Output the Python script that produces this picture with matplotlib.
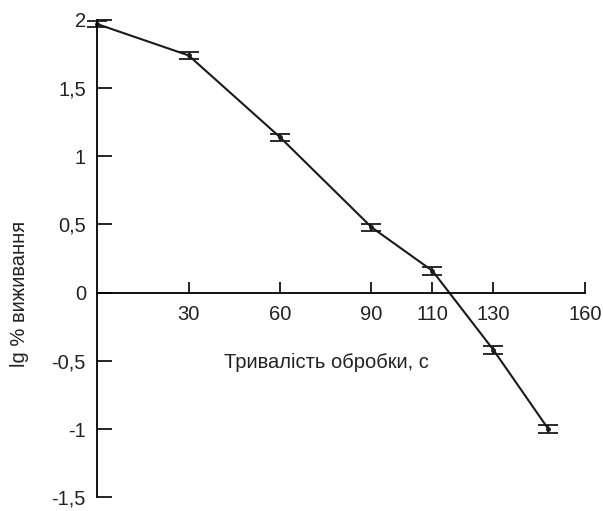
import matplotlib
matplotlib.use("Agg")
from matplotlib import pyplot as plt
from matplotlib.ticker import FuncFormatter

plt.rcParams['font.family'] = ['Liberation Sans', 'DejaVu Sans']

# time of treatment, s
time_s = [0, 30, 60, 90, 110, 130, 148]
# lg % survival
lg_surv = [1.97, 1.74, 1.14, 0.48, 0.16, -0.42, -1.0]
err = [0.025, 0.027, 0.027, 0.027, 0.027, 0.027, 0.027]

x_ticks = [30, 60, 90, 110, 130, 160]
y_ticks = [-1.5, -1, -0.5, 0, 0.5, 1, 1.5, 2]

fig = plt.figure(figsize=(6.03, 5.11), dpi=100)
ax = fig.add_axes([0.161, 0.027, 0.809, 0.934])

eb = ax.errorbar(time_s, lg_surv, yerr=err, color='#1a1a1a', lw=1.5,
                 marker='o', ms=2.5, capsize=7, capthick=1.3, elinewidth=1.3)
for artist in eb.lines[0:1] + tuple(eb.lines[1]) + tuple(eb.lines[2]):
    artist.set_clip_on(False)

ax.set_xlim(0, 160)
ax.set_ylim(-1.5, 2)

ax.spines['top'].set_visible(False)
ax.spines['right'].set_visible(False)
ax.spines['bottom'].set_position(('data', 0))
ax.spines['left'].set_linewidth(1.3)
ax.spines['bottom'].set_linewidth(1.3)

ax.set_xticks(x_ticks)
ax.set_yticks(y_ticks)


def comma(v, pos):
    s = ('%g' % v).replace('.', ',')
    return s


ax.yaxis.set_major_formatter(FuncFormatter(comma))
ax.tick_params(axis='x', direction='in', length=8, width=1.2, pad=9,
               labelsize=14.5, labelcolor='#222222')
ax.tick_params(axis='y', direction='in', length=11, width=1.2, pad=8,
               labelsize=14.5, labelcolor='#222222')

fig.text(20 / 603, 1 - 294 / 511, 'lg % виживання', rotation=90,
         ha='center', va='center', fontsize=14.5, color='#222222')
fig.text(326 / 603, 1 - 362 / 511, 'Тривалість обробки, с',
         ha='center', va='center', fontsize=14.5, color='#222222')

fig.savefig('out.png', dpi=100)
